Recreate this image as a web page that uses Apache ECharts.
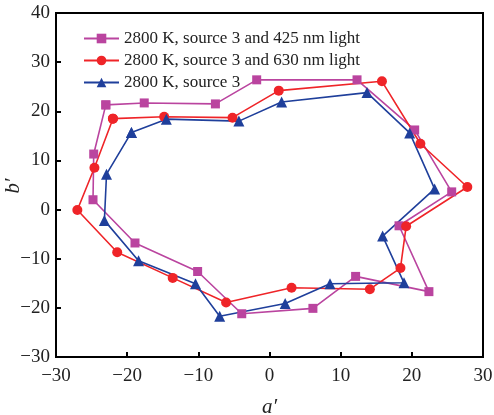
<!DOCTYPE html>
<html>
<head>
<meta charset="utf-8">
<script src="https://cdn.jsdelivr.net/npm/echarts@6/dist/echarts.min.js"></script>
<style>
  html, body { margin: 0; padding: 0; background: #fff; }
  #chart { width: 494px; height: 415px; }
</style>
</head>
<body>
<div id="chart"></div>
<script>
// 数据：a′ / b′ 坐标（按闭合曲线顺序）
var names = ['2800 K, source 3 and 425 nm light', '2800 K, source 3 and 630 nm light', '2800 K, source 3'];
var colors = ['#BA449F', '#EF2428', '#1F3F9B'];

var a425 = [-23.0, -17.6, -7.6, -1.8, 12.3, 20.4, 25.6, 18.2, 22.4, 12.1, 6.1, -3.9, -10.1, -18.9, -24.8, -24.7];
var b425 = [21.3, 21.7, 21.5, 26.4, 26.4, 16.2, 3.6, -3.3, -16.7, -13.6, -20.1, -21.2, -12.6, -6.8, 2.0, 11.3];

var a630 = [-22.0, -14.8, -5.2, 1.3, 15.8, 21.2, 27.8, 19.2, 18.4, 14.1, 3.1, -6.1, -13.6, -21.4, -27.0, -24.6];
var b630 = [18.5, 18.9, 18.7, 24.2, 26.1, 13.4, 4.6, -3.4, -11.9, -16.2, -15.9, -18.9, -13.9, -8.7, -0.1, 8.5];

var aSrc3 = [-19.4, -14.5, -4.3, 1.7, 13.7, 19.7, 23.2, 15.9, 18.9, 8.5, 2.2, -7.0, -10.4, -18.4, -23.2, -22.9];
var bSrc3 = [15.7, 18.4, 18.0, 21.9, 23.8, 15.6, 4.2, -5.4, -14.9, -15.1, -19.1, -21.7, -15.1, -10.4, -2.2, 7.2];

var xTicks = [-30, -20, -10, 0, 10, 20, 30];
var yTicks = [-30, -20, -10, 0, 10, 20, 30, 40];

// 闭合：首点追加到末尾
function loop(xs, ys) {
    var pts = xs.map(function (x, i) { return [x, ys[i]]; });
    pts.push(pts[0]);
    return pts;
}
function minus(v) { return String(v).replace('-', '\u2212'); }

var myChart = echarts.init(document.getElementById('chart'));
var serif = 'Liberation Serif';

var option = {
    backgroundColor: '#fff',
    animation: false,
    grid: {
        left: 56, right: 11, top: 13, bottom: 58,
        outerBoundsMode: 'none', containLabel: false,
        show: true, borderColor: '#000', borderWidth: 2
    },
    // y 轴名称（旋转文字）
    graphic: [{
        type: 'text', x: 13, y: 186, rotation: Math.PI / 2,
        style: {
            text: 'b\u2032', fontFamily: serif, fontStyle: 'italic', fontSize: 21,
            fill: '#222', align: 'center', verticalAlign: 'middle'
        }
    }],
    legend: {
        left: 78, top: 25,
        orient: 'vertical',
        itemWidth: 35, itemHeight: 12, itemGap: 5,
        textStyle: { fontFamily: serif, fontSize: 17, color: '#222' },
        data: names
    },
    xAxis: {
        type: 'value', min: -30, max: 30, interval: 10,
        name: 'a\u2032', nameLocation: 'middle', nameGap: 40,
        nameTextStyle: { fontFamily: serif, fontStyle: 'italic', fontSize: 21, color: '#222' },
        axisLine: { onZero: false, lineStyle: { color: '#000', width: 2 } },
        axisTick: { inside: true, length: 5, lineStyle: { color: '#000', width: 2 } },
        axisLabel: { fontFamily: serif, fontSize: 19, color: '#222', margin: 10, formatter: minus },
        splitLine: { show: false }
    },
    yAxis: {
        type: 'value', min: -30, max: 40, interval: 10,
        axisLine: { onZero: false, lineStyle: { color: '#000', width: 2 } },
        axisTick: { inside: true, length: 5, lineStyle: { color: '#000', width: 2 } },
        axisLabel: { fontFamily: serif, fontSize: 19, color: '#222', margin: 6, formatter: minus },
        splitLine: { show: false }
    },
    series: [
        {
            name: names[0], type: 'line', data: loop(a425, b425),
            symbol: 'rect', symbolSize: 9,
            lineStyle: { width: 1.6, color: colors[0] },
            itemStyle: { color: colors[0] }
        },
        {
            name: names[1], type: 'line', data: loop(a630, b630),
            symbol: 'circle', symbolSize: 10,
            lineStyle: { width: 1.6, color: colors[1] },
            itemStyle: { color: colors[1] }
        },
        {
            name: names[2], type: 'line', data: loop(aSrc3, bSrc3),
            symbol: 'triangle', symbolSize: 11,
            lineStyle: { width: 1.6, color: colors[2] },
            itemStyle: { color: colors[2] }
        }
    ]
};
myChart.setOption(option);
</script>
</body>
</html>
